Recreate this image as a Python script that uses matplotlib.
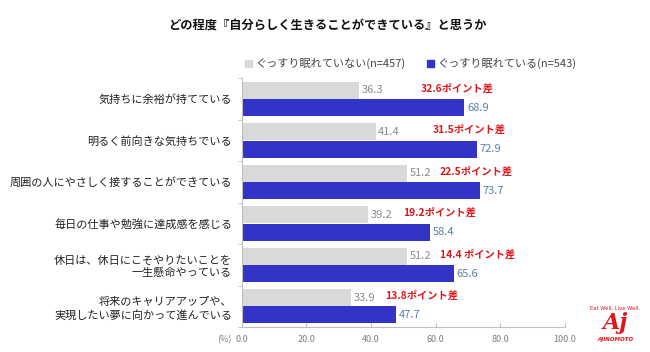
import numpy as np
import matplotlib.pyplot as plt

plt.rcParams["font.family"] = ["Noto Sans CJK JP", "DejaVu Sans"]

categories = [
    "気持ちに余裕が持てている",
    "明るく前向きな気持ちでいる",
    "周囲の人にやさしく接することができている",
    "毎日の仕事や勉強に達成感を感じる",
    "休日は、休日にこそやりたいことを\n一生懸命やっている",
    "将来のキャリアアップや、\n実現したい夢に向かって進んでいる",
]
not_sleeping = [36.3, 41.4, 51.2, 39.2, 51.2, 33.9]
sleeping = [68.9, 72.9, 73.7, 58.4, 65.6, 47.7]
diff_labels = ["32.6ポイント差", "31.5ポイント差", "22.5ポイント差",
               "19.2ポイント差", "14.4 ポイント差", "13.8ポイント差"]
diff_x = [55.4, 59.1, 61.3, 49.8, 61.3, 44.3]
series_names = ["ぐっすり眠れていない(n=457)", "ぐっすり眠れている(n=543)"]
xticks = [0, 20, 40, 60, 80, 100]

GREY = "#d9d9d9"
BLUE = "#3333c8"
RED = "#e0161b"

fig = plt.figure(figsize=(6.5, 3.52), dpi=100)
ax = fig.add_axes([0.372, 0.071, 0.497, 0.707])

y = np.arange(len(categories))
h = 0.41
ax.barh(y - 0.21, not_sleeping, height=h, color=GREY)
ax.barh(y + 0.21, sleeping, height=h, color=BLUE)

for i in range(len(categories)):
    ax.text(not_sleeping[i] + 0.8, y[i] - 0.21, f"{not_sleeping[i]:.1f}",
            va="center", ha="left", fontsize=8, color="#8c8c8c")
    ax.text(sleeping[i] + 0.8, y[i] + 0.21, f"{sleeping[i]:.1f}",
            va="center", ha="left", fontsize=8, color="#5a7fa8")
    ax.text(diff_x[i], y[i] - 0.25, diff_labels[i], va="center", ha="left",
            fontsize=7.4, color=RED, fontweight="bold")

ax.set_xlim(0, 100)
ax.set_ylim(len(categories) - 0.5, -0.5)
ax.set_xticks(xticks)
ax.set_xticklabels([f"{v:.1f}" for v in xticks], fontsize=6.5, color="#7f7f7f")
ax.tick_params(axis="x", direction="in", length=3, color="#bfbfbf", pad=6)

ax.set_yticks(y)
ax.set_yticklabels(categories, fontsize=8.0, color="#222222", linespacing=1.3)
ax.set_yticks(np.arange(len(categories) + 1) - 0.5, minor=True)
ax.tick_params(axis="y", which="major", length=0, pad=7)
ax.tick_params(axis="y", which="minor", length=3, color="#bfbfbf")

for s in ["top", "right"]:
    ax.spines[s].set_visible(False)
ax.spines["left"].set_color("#bfbfbf")
ax.spines["bottom"].set_color("#bfbfbf")

ax.annotate("(%)", xy=(0, 0), xycoords="axes fraction", xytext=(-7.5, -6),
            textcoords="offset points", ha="right", va="top",
            fontsize=6.5, color="#7f7f7f")

# title
fig.text(0.503, 0.929, "どの程度『自分らしく生きることができている』と思うか",
         ha="center", va="center", fontsize=8.8, fontweight="bold", color="#111111")

# legend
fig.patches.append(plt.Rectangle((245 / 650, 1 - 67 / 352), 7 / 650, 7 / 352,
                                 transform=fig.transFigure, color=GREY))
fig.text(255 / 650, 1 - 63 / 352, series_names[0], ha="left", va="center",
         fontsize=8, color="#444444")
fig.patches.append(plt.Rectangle((427 / 650, 1 - 67 / 352), 7 / 650, 7 / 352,
                                 transform=fig.transFigure, color=BLUE))
fig.text(437 / 650, 1 - 63 / 352, series_names[1], ha="left", va="center",
         fontsize=8, color="#444444")

# logo
fig.text(615 / 650, 1 - 308 / 352, "Eat Well, Live Well.", ha="center", va="center",
         fontsize=3.8, color=RED, family="DejaVu Sans")
fig.text(615 / 650, 1 - 323 / 352, "Aj", ha="center", va="center", fontsize=16,
         color=RED, fontweight="bold", fontstyle="italic", family="DejaVu Serif")
fig.text(615 / 650, 1 - 339 / 352, "AJINOMOTO", ha="center", va="center",
         fontsize=4, color=RED, fontweight="bold", fontstyle="italic", family="DejaVu Sans")

fig.savefig("out.png", dpi=100, facecolor="white")
